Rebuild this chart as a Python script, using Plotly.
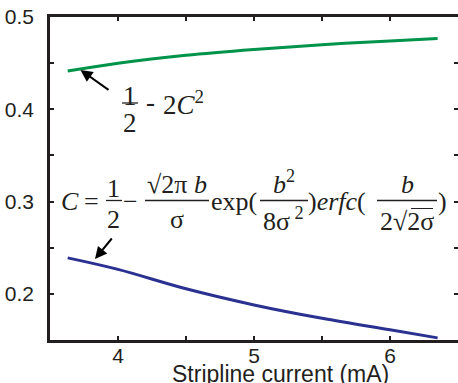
import plotly.graph_objects as go

# ---- data ----
current_mA = [3.63, 4.0, 4.5, 5.0, 5.5, 6.0, 6.35]
green_vals = [0.4415, 0.4500, 0.4585, 0.4648, 0.4700, 0.4740, 0.4766]
blue_vals = [0.2390, 0.2265, 0.2055, 0.1880, 0.1735, 0.1610, 0.1523]

x_tickvals = [3.5, 4.0, 4.5, 5.0, 5.5, 6.0, 6.5]
x_ticktext = ["", "4", "", "5", "", "6", ""]
y_tickvals = [0.15, 0.2, 0.25, 0.3, 0.35, 0.4, 0.45, 0.5]
y_ticktext = ["", "0.2", "", "0.3", "", "0.4", "", "0.5"]

W, H = 458, 383
L, R, T, B = 50, 458, 17, 340
INK = "#231F20"
SERIF = "Liberation Serif"
SANS = "Liberation Sans"


def P(px, py):
    return (px - L) / (R - L), (B - py) / (B - T)


fig = go.Figure()
fig.add_trace(go.Scatter(x=current_mA, y=green_vals, mode="lines",
                         line=dict(color="#00944A", width=3), line_shape="spline",
                         showlegend=False, hoverinfo="skip"))
fig.add_trace(go.Scatter(x=current_mA, y=blue_vals, mode="lines",
                         line=dict(color="#2B3190", width=3), line_shape="spline",
                         showlegend=False, hoverinfo="skip"))

annotations = []
shapes = []


def txt(s, px, py, size, xanchor="center"):
    x, y = P(px, py)
    annotations.append(dict(text=s, x=x, y=y, xref="paper", yref="paper",
                            xanchor=xanchor, yanchor="middle", showarrow=False,
                            font=dict(family=SERIF, size=size, color=INK)))


def bar(px0, px1, py, w=1.3):
    x0, y0 = P(px0, py)
    x1, _ = P(px1, py)
    shapes.append(dict(type="line", xref="paper", yref="paper", x0=x0, x1=x1,
                       y0=y0, y1=y0, line=dict(color=INK, width=w)))


def arrow(tip_px, tip_py, ax, ay):
    x, y = P(tip_px, tip_py)
    annotations.append(dict(text="", x=x, y=y, xref="paper", yref="paper",
                            ax=ax, ay=ay, showarrow=True, arrowhead=2,
                            arrowsize=1.2, arrowwidth=2, arrowcolor="black",
                            standoff=0))


# green formula: 1/2 - 2C^2
GF = 27
txt("1", 130, 96, GF)
bar(122, 138, 103)
txt("2", 130, 123, GF)
txt("-", 144, 102, GF, xanchor="left")
txt("2<i>C</i><sup>2</sup>", 161, 103, GF, xanchor="left")
arrow(80.5, 70, 29.5, 21)

# C formula
FS = 26
txt("<i>C</i>", 70, 202, FS)
txt("=", 91.5, 201, FS)
txt("1", 113, 188, FS)
bar(106, 122, 200.5)
txt("2", 113, 220, FS)
txt("\u2212", 130, 201, FS)
txt("\u221a2\u03c0 <i>b</i>", 177, 184, FS)
bar(145, 209, 200.5)
txt("\u03c3", 177, 220, FS)
txt("exp(", 209, 201, FS, xanchor="left")
txt("<i>b</i><sup>2</sup>", 284, 183, FS)
bar(260, 308, 200.5)
txt("8\u03c3<sup> 2</sup>", 283, 220, FS)
txt(")<i>erfc</i>(", 306, 201, FS, xanchor="left")
txt("<i>b</i>", 407, 184, FS)
bar(377, 437, 200.5)
bar(411, 433, 208.5, w=1)
txt("2\u221a2\u03c3", 407, 221, FS)
txt(")", 442, 201, FS)
arrow(95, 259, 18, -22)

# x-axis title
tx, ty = P(280, 374)
annotations.append(dict(text="Stripline current (mA)", x=tx, y=ty, xref="paper",
                        yref="paper", xanchor="center", yanchor="middle",
                        showarrow=False, font=dict(family=SANS, size=23, color=INK)))

fig.update_layout(
    width=W, height=H,
    margin=dict(l=L, r=W - R, t=T, b=H - B, pad=0),
    paper_bgcolor="white", plot_bgcolor="white",
    font=dict(family=SANS, color=INK),
    annotations=annotations, shapes=shapes,
    xaxis=dict(range=[3.5, 6.5], tickvals=x_tickvals, ticktext=x_ticktext,
               ticks="inside", ticklen=4, tickwidth=2, tickcolor=INK,
               showline=True, linewidth=2.5, linecolor=INK, mirror="allticks",
               showgrid=False, zeroline=False, automargin=False,
               ticklabelstandoff=-5,
               tickfont=dict(family=SANS, size=21, color=INK)),
    yaxis=dict(range=[0.15, 0.5], tickvals=y_tickvals, ticktext=y_ticktext,
               ticks="inside", ticklen=4, tickwidth=2, tickcolor=INK,
               showline=True, linewidth=2.5, linecolor=INK, mirror="allticks",
               showgrid=False, zeroline=False, automargin=False,
               ticklabelstandoff=9,
               tickfont=dict(family=SANS, size=21, color=INK)),
)

fig.write_html("out.html",
               config={"displayModeBar": False},
               post_script="document.body.style.margin='0';document.body.style.padding='0';")
